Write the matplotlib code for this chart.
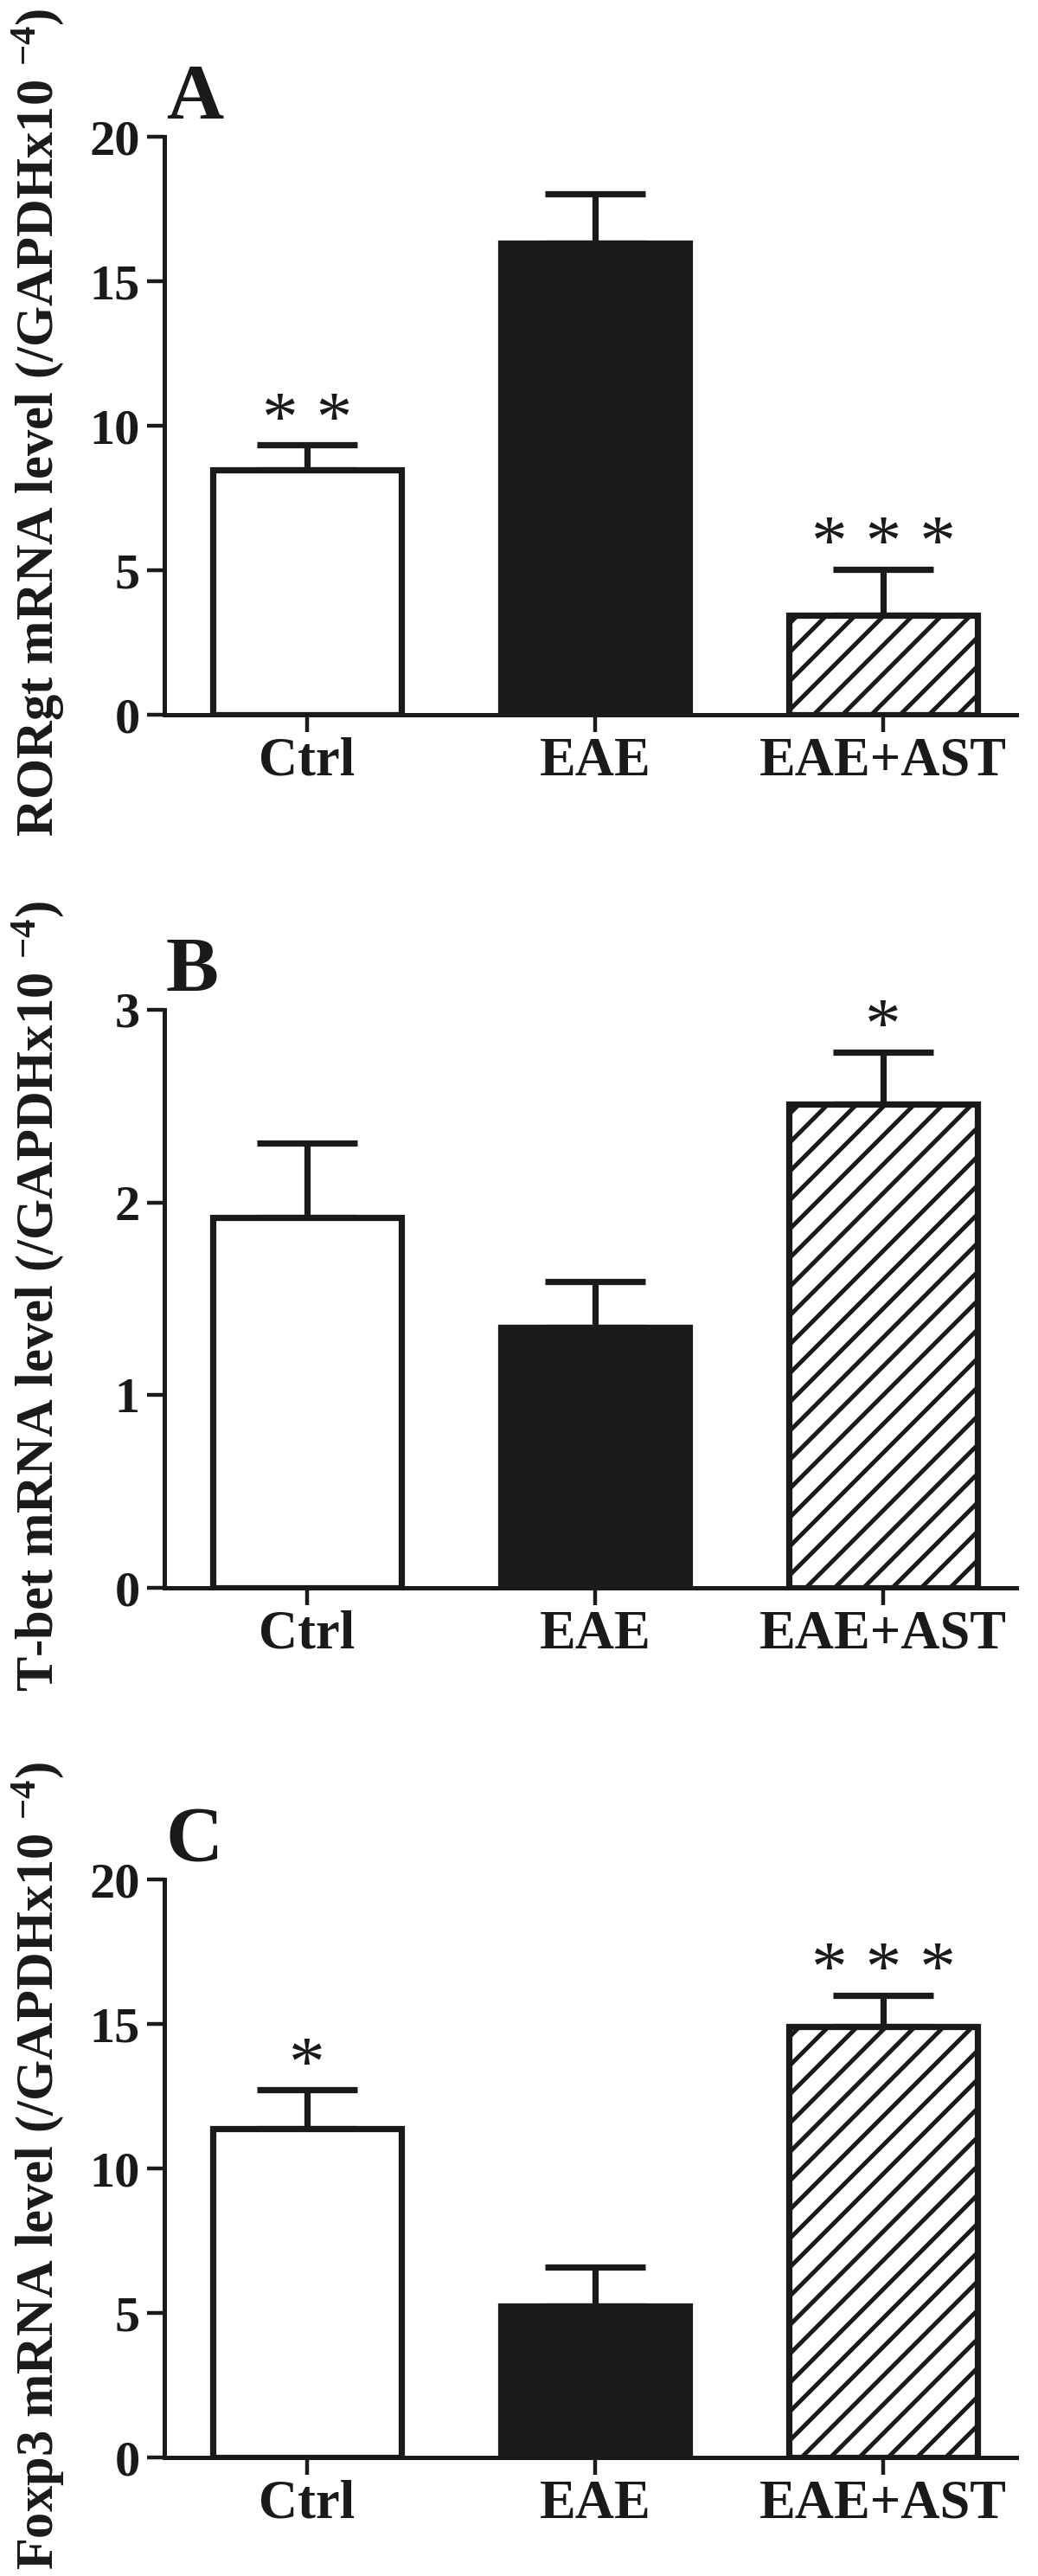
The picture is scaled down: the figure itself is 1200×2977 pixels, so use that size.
import numpy as np
import matplotlib
matplotlib.use("Agg")
import matplotlib.pyplot as plt

# data (mean, SEM), units x10^-4 of GAPDH
groups = ["Ctrl", "EAE", "EAE+AST"]

rorgt_mean = [8.49, 16.32, 3.45]
rorgt_sem = [0.85, 1.72, 1.59]
rorgt_sig = ["* *", "", "* * *"]

tbet_mean = [1.92, 1.35, 2.51]
tbet_sem = [0.39, 0.24, 0.27]
tbet_sig = ["", "", "*"]

foxp3_mean = [11.39, 5.24, 14.91]
foxp3_sem = [1.33, 1.35, 1.09]
foxp3_sig = ["*", "", "* * *"]

plt.rcParams["font.family"] = ["Liberation Serif", "DejaVu Serif"]
plt.rcParams["font.weight"] = "bold"
plt.rcParams["mathtext.fontset"] = "custom"
plt.rcParams["mathtext.rm"] = "Liberation Serif:bold"
plt.rcParams["mathtext.bf"] = "Liberation Serif:bold"
plt.rcParams["mathtext.default"] = "rm"
plt.rcParams["hatch.linewidth"] = 1.8
plt.rcParams["hatch.color"] = "#1a1a1a"

ink = "#1a1a1a"
faces = ["white", ink, "white"]
hatches = [None, None, "//"]

fig = plt.figure(figsize=(6, 14.885), dpi=200)

panels = [
    ("A", "RORgt", rorgt_mean, rorgt_sem, rorgt_sig, 20, [0, 5, 10, 15, 20], 0.7225),
    ("B", "T-bet", tbet_mean, tbet_sem, tbet_sig, 3, [0, 1, 2, 3], 0.3836),
    ("C", "Foxp3", foxp3_mean, foxp3_sem, foxp3_sig, 20, [0, 5, 10, 15, 20], 0.0460),
]

x = np.arange(len(groups))

for letter, gene, mean, sem, sig, ymax, yticks, bottom in panels:
    ax = fig.add_axes([0.1583, bottom, 0.8208, 0.2244])

    # upper error bars only, drawn under the bars
    ax.errorbar(x, mean, yerr=[np.zeros(len(mean)), sem], fmt="none",
                ecolor=ink, elinewidth=2.6, capsize=21, capthick=2.6, zorder=1)
    for i in range(len(groups)):
        ax.bar(x[i], mean[i], width=0.655, color=faces[i], edgecolor=ink,
               linewidth=2.6, hatch=hatches[i], zorder=2)

    for i in range(len(groups)):
        if sig[i]:
            ax.annotate(sig[i], xy=(x[i], mean[i] + sem[i]), xytext=(0, 2),
                        textcoords="offset points", ha="center", va="baseline",
                        fontsize=30, fontweight="normal", color=ink)

    ax.set_xlim(-0.495, 2.462)
    ax.set_ylim(0, ymax)
    ax.set_yticks(yticks)
    ax.set_xticks(x)
    ax.set_xticklabels(groups, fontsize=22.5, fontweight="bold")
    ax.tick_params(axis="y", labelsize=21, length=7.2, width=1.6, pad=3, colors=ink)
    ax.tick_params(axis="x", length=7.2, width=1.6, pad=2, colors=ink)
    for lab in ax.get_yticklabels():
        lab.set_fontweight("bold")

    for s in ["top", "right"]:
        ax.spines[s].set_visible(False)
    for s in ["left", "bottom"]:
        ax.spines[s].set_linewidth(1.8)
        ax.spines[s].set_color(ink)

    ax.set_ylabel(gene + r" mRNA level (/GAPDHx10 $^{-4}$)", fontsize=21.8,
                  fontweight="bold", color=ink)
    ax.yaxis.set_label_coords(-0.116, 0.505)

    ax.text(0.002, 1.032, letter, transform=ax.transAxes, fontsize=33,
            fontweight="bold", ha="left", va="baseline", color=ink)

fig.savefig("out.png", dpi=200, facecolor="white")
